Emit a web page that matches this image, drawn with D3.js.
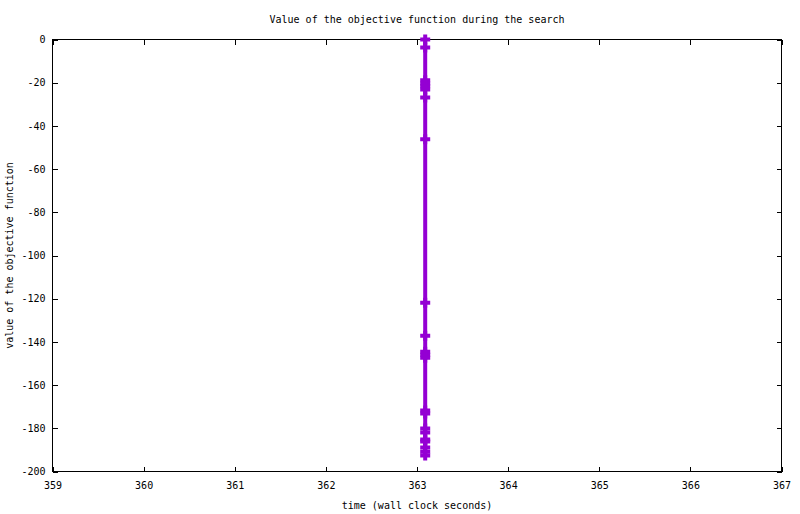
<!DOCTYPE html>
<html>
<head>
<meta charset="utf-8">
<script src="https://cdn.jsdelivr.net/npm/d3@7"></script>
<style>
  html, body { margin: 0; padding: 0; background: #fff; }
  svg { display: block; }
  text { font-family: "DejaVu Sans Mono", monospace; font-size: 10px; fill: #000; }
</style>
</head>
<body>
<svg id="chart" width="800" height="514"></svg>
<script>
// ---- data ----
const times = [363.09, 363.09, 363.09, 363.09, 363.09, 363.09, 363.09, 363.09, 363.09, 363.09, 363.09,
               363.09, 363.09, 363.09, 363.09, 363.09, 363.09, 363.09, 363.09, 363.09, 363.09, 363.09];
const objective = [0, -3.7, -18.9, -20.4, -21.6, -23.1, -26.8, -46.2, -121.9, -137.2, -144.6,
                   -146.0, -147.3, -171.8, -173.2, -180.1, -182.0, -185.2, -186.1, -188.9, -190.8, -192.6];
const xTicks = [359, 360, 361, 362, 363, 364, 365, 366, 367];
const yTicks = [0, -20, -40, -60, -80, -100, -120, -140, -160, -180, -200];
const titleText = "Value of the objective function during the search";
const xLabel = "time (wall clock seconds)";
const yLabel = "value of the objective function";

const data = objective.map((v, i) => ({ t: times[i], v }));

const svg = d3.select("#chart");
const L = 52.5, R = 781.5, T = 39.5, B = 471.5;
const color = "#9400D3";

const x = d3.scaleLinear().domain([359, 367]).range([L, R]);
const y = d3.scaleLinear().domain([-200, 0]).range([B, T]);

const tickLen = 5;
const gB = svg.append("g").attr("transform", `translate(0,${B})`)
  .call(d3.axisBottom(x).tickValues(xTicks).tickFormat(d3.format("d")).tickSizeInner(-tickLen).tickSizeOuter(0).tickPadding(10));
const gT = svg.append("g").attr("transform", `translate(0,${T})`)
  .call(d3.axisTop(x).tickValues(xTicks).tickFormat("").tickSizeInner(-tickLen).tickSizeOuter(0));
const gL = svg.append("g").attr("transform", `translate(${L},0)`)
  .call(d3.axisLeft(y).tickValues(yTicks).tickFormat(d => d3.format("d")(d).replace("−", "-")).tickSizeInner(-tickLen).tickSizeOuter(0).tickPadding(7));
const gR = svg.append("g").attr("transform", `translate(${R},0)`)
  .call(d3.axisRight(y).tickValues(yTicks).tickFormat("").tickSizeInner(-tickLen).tickSizeOuter(0));

[gB, gT, gL, gR].forEach(g => {
  g.select(".domain").remove();
  g.selectAll("line").attr("stroke", "#000").attr("shape-rendering", "crispEdges");
  g.selectAll("text").attr("font-family", "DejaVu Sans Mono, monospace").attr("font-size", 10).attr("fill", "#000");
});
svg.append("rect").attr("x", L).attr("y", T).attr("width", R - L).attr("height", B - T)
  .attr("fill", "none").attr("stroke", "#000").attr("stroke-width", 1).attr("shape-rendering", "crispEdges");

// series line
const line = d3.line().x(d => x(d.t)).y(d => y(d.v));
svg.append("path").datum(data).attr("d", line)
  .attr("fill", "none").attr("stroke", color).attr("stroke-width", 4);

// plus markers
svg.append("g").selectAll("path").data(data).join("path")
  .attr("transform", d => `translate(${x(d.t)},${y(d.v)})`)
  .attr("d", "M-5,0H5M0,-5V5")
  .attr("stroke", color).attr("stroke-width", 4).attr("fill", "none");

// title & labels
svg.append("text").attr("x", (L + R) / 2).attr("y", 23).attr("text-anchor", "middle").text(titleText);
svg.append("text").attr("x", (L + R) / 2).attr("y", 509).attr("text-anchor", "middle").text(xLabel);
svg.append("text").attr("transform", `translate(13,${(T + B) / 2}) rotate(-90)`).attr("text-anchor", "middle").text(yLabel);
</script>
</body>
</html>
